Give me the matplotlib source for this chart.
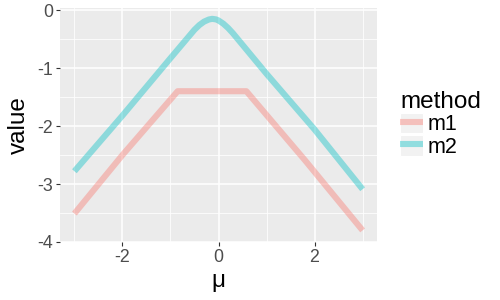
import matplotlib
matplotlib.use("Agg")
import matplotlib.pyplot as plt
from matplotlib.legend_handler import HandlerLine2D
from matplotlib.patches import Rectangle
from matplotlib.ticker import MultipleLocator

plt.rcParams['font.family'] = ['Liberation Sans', 'DejaVu Sans']
plt.rcParams['axes.unicode_minus'] = False

# data
m1_mu = [-3.0, -2.0, -0.85, 0.58, 1.8, 3.0]
m1_val = [-3.51, -2.50, -1.40, -1.40, -2.59, -3.80]

m2_mu = [-3.0, -2.0, -1.0, -0.5, -0.4, -0.3, -0.2, -0.13, -0.05, 0.0, 0.1, 0.2, 0.3, 0.5, 1.0, 2.0, 3.0]
m2_val = [-2.78, -1.82, -0.83, -0.34, -0.26, -0.2, -0.163, -0.152, -0.162, -0.18, -0.235, -0.31, -0.40, -0.60, -1.10, -2.06, -3.09]

series_names = ["m1", "m2"]
series_colors = ["#F8766D", "#00BFC4"]
x_ticks = [-2, 0, 2]
y_ticks = [0, -1, -2, -3, -4]

fig = plt.figure(figsize=(5, 3), dpi=100)
ax = fig.add_axes([60/500, 1-242/300, 317/500, 234/300])
ax.set_facecolor("#EBEBEB")
for s in ax.spines.values():
    s.set_visible(False)

ax.plot(m1_mu, m1_val, color=series_colors[0], alpha=0.4, lw=4.4,
        solid_capstyle='butt', solid_joinstyle='round', label=series_names[0])
ax.plot(m2_mu, m2_val, color=series_colors[1], alpha=0.4, lw=4.4,
        solid_capstyle='butt', solid_joinstyle='round', label=series_names[1])

ax.set_xlim(-3.3, 3.3)
ax.set_ylim(-3.985, 0.035)
ax.set_xticks(x_ticks)
ax.set_yticks(y_ticks)
ax.xaxis.set_minor_locator(MultipleLocator(2, offset=1))
ax.yaxis.set_minor_locator(MultipleLocator(1, offset=0.5))
ax.grid(which='major', color='white', lw=1.1)
ax.grid(which='minor', color='white', lw=0.55)
ax.set_axisbelow(True)
ax.tick_params(which='major', length=3, width=0.8, color='#333333',
               labelsize=12.8, labelcolor='#4D4D4D', pad=2)
ax.tick_params(which='minor', length=0)

ax.set_xlabel("μ", fontsize=17.5, labelpad=3)
ax.set_ylabel("value", fontsize=17.5, labelpad=5)


class KeyHandler(HandlerLine2D):
    def create_artists(self, legend, orig_handle, xdescent, ydescent,
                       width, height, fontsize, trans):
        rect = Rectangle((-xdescent, -ydescent), width, height,
                         facecolor="#F2F2F2", edgecolor="white", lw=0.8,
                         transform=trans)
        arts = super().create_artists(legend, orig_handle, xdescent, ydescent,
                                      width, height, fontsize, trans)
        for a in arts:
            a.set_alpha(0.4)
            try:
                a.set_solid_capstyle('butt')
            except Exception:
                pass
        return [rect] + list(arts)


handles, labels = ax.get_legend_handles_labels()
leg = fig.legend(handles, labels, title="method", loc='upper left',
                 bbox_to_anchor=(400/500, 1-91/300), frameon=False,
                 fontsize=15.5, title_fontsize=17.5, borderpad=0,
                 borderaxespad=0, labelspacing=0, handlelength=1.07,
                 handleheight=1.07, handletextpad=0.2, alignment='left',
                 handler_map={matplotlib.lines.Line2D: KeyHandler()})

fig.savefig("out.png", dpi=100)
